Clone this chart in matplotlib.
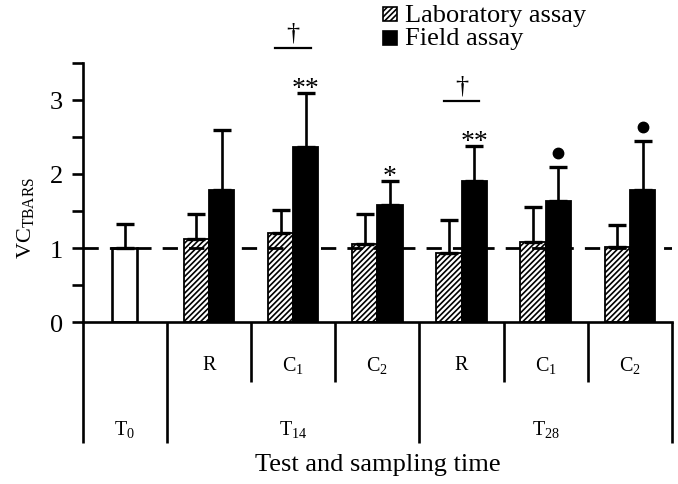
import numpy as np
import matplotlib
matplotlib.use('Agg')
import matplotlib.pyplot as plt
from matplotlib.patches import Rectangle

plt.rcParams['font.family'] = 'Liberation Serif'
plt.rcParams['mathtext.fontset'] = 'custom'
plt.rcParams['mathtext.rm'] = 'Liberation Serif'
plt.rcParams['mathtext.it'] = 'Liberation Serif:italic'
plt.rcParams['hatch.linewidth'] = 1.2

# data
treatments = ['R', 'C$_1$', 'C$_2$', 'R', 'C$_1$', 'C$_2$']
times = ['T$_0$', 'T$_{14}$', 'T$_{28}$']
t0_mean = 1.0
t0_upper = 1.33
lab_mean = [1.12, 1.20, 1.06, 0.93, 1.08, 1.01]
lab_upper = [1.46, 1.52, 1.46, 1.38, 1.56, 1.31]
field_mean = [1.78, 2.37, 1.58, 1.91, 1.64, 1.78]
field_upper = [2.59, 3.10, 1.90, 2.38, 2.10, 2.45]
field_sig = ['', '**', '*', '**', 'dot', 'dot']
dagger = [False, True, False, True, False, False]

W, H = 678, 485
fig = plt.figure(figsize=(W / 100, H / 100), dpi=100)
# axes frame in pixels: x 82.7..672, y0 at 323, 3.5 at 64
ax = fig.add_axes([82.7 / W, (H - 323) / H, (672 - 82.7) / W, 259 / H])
ppu = 259 / 3.5  # pixels per y unit

lw = 1.9
w = 0.3
centers = np.arange(len(treatments)) + 1.5
lab = np.array(lab_mean)
field = np.array(field_mean)

# T0 bar
ax.bar(0.5, t0_mean, w, color='white', edgecolor='black', linewidth=lw, zorder=2)
ax.errorbar(0.5, t0_mean, yerr=[[0], [t0_upper - t0_mean]], fmt='none', ecolor='black',
            elinewidth=lw, capsize=6.5, capthick=2.4, zorder=2)

ax.bar(centers - w / 2, lab, w, color='white', edgecolor='black', hatch='//////',
       linewidth=1.3, zorder=2)
ax.bar(centers + w / 2, field, w, color='black', edgecolor='black', linewidth=1.3, zorder=2)
ax.errorbar(centers - w / 2, lab, yerr=[np.zeros(6), np.array(lab_upper) - lab], fmt='none',
            ecolor='black', elinewidth=lw, capsize=6.5, capthick=2.4, zorder=2)
ax.errorbar(centers + w / 2, field, yerr=[np.zeros(6), np.array(field_upper) - field], fmt='none',
            ecolor='black', elinewidth=lw, capsize=6.5, capthick=2.4, zorder=2)

ax.axhline(1, color='black', lw=2.0, dashes=(5.5, 4), zorder=3)

# significance marks
for c, up, s, d in zip(centers, field_upper, field_sig, dagger):
    if s == 'dot':
        ax.plot(c + w / 2, up + 14 / ppu, 'o', color='black', ms=7.5, clip_on=False)
    elif s:
        ax.text(c + w / 2, up - 2 / ppu, s, ha='center', va='baseline', fontsize=20)
    if d:
        yl = up + 0.6
        ax.plot([c - 0.21, c + 0.21], [yl, yl], color='black', lw=1.6, clip_on=False)
        ax.text(c, yl + 5 / ppu, '\u2020', ha='center', va='bottom', fontsize=19)

ax.set_xlim(0, 7)
ax.set_ylim(0, 3.5)
ax.set_yticks([0, 1, 2, 3])
ax.set_yticks(np.arange(0.5, 3.6, 1), minor=True)
ax.set_xticks([])
ax.tick_params(axis='y', which='both', direction='out', length=8, width=lw, labelsize=19, pad=6)
for sp in ['top', 'right']:
    ax.spines[sp].set_visible(False)
for sp in ['left', 'bottom']:
    ax.spines[sp].set_linewidth(lw)

# category table below the axis
long_y = -(444 - 323) / ppu
short_y = -(383 - 323) / ppu
for xb in [0, 1, 4, 7]:
    ax.plot([xb, xb], [0, long_y], color='black', lw=lw, clip_on=False, solid_capstyle='butt')
for xb in [2, 3, 5, 6]:
    ax.plot([xb, xb], [0, short_y], color='black', lw=lw, clip_on=False, solid_capstyle='butt')
for c, t in zip(centers, treatments):
    ax.text(c, -(365 - 323) / ppu, t, ha='center', va='center', fontsize=14.5)
for c, t in zip([0.5, 2.5, 5.5], times):
    ax.text(c, -(430 - 323) / ppu, t, ha='center', va='center', fontsize=14.5)
ax.text(3.5, -(465 - 323) / ppu, 'Test and sampling time', ha='center', va='center',
        fontsize=19)

fig.text(25 / W, 1 - 218 / H, 'VC$_{\\mathrm{TBARS}}$', rotation=90, ha='center', va='center',
         fontsize=16)

# legend
fig.patches.append(Rectangle((383 / W, 1 - 22 / H), 14 / W, 14 / H, transform=fig.transFigure,
                             facecolor='white', edgecolor='black', hatch='//////', lw=1.2))
fig.patches.append(Rectangle((383 / W, 1 - 46 / H), 14 / W, 14 / H, transform=fig.transFigure,
                             facecolor='black', edgecolor='black', lw=1.2))
fig.text(405 / W, 1 - 21.7 / H, 'Laboratory assay', fontsize=19, va='baseline')
fig.text(405 / W, 1 - 45 / H, 'Field assay', fontsize=19, va='baseline')

fig.savefig('out.png', dpi=100)
